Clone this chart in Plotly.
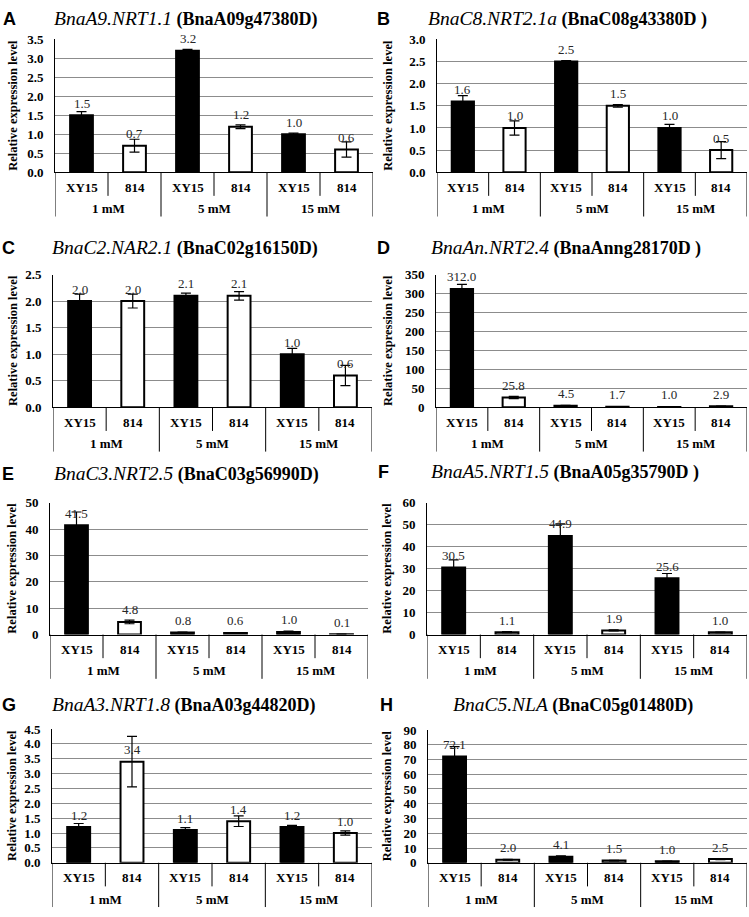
import plotly.graph_objects as go

W, H = 749, 917

# ---------------- data ----------------
genotypes = ["XY15", "814", "XY15", "814", "XY15", "814"]
concentrations = ["1 mM", "5 mM", "15 mM"]
panel_letters = ["A", "B", "C", "D", "E", "F", "G", "H"]
gene_names = ["BnaA9.NRT1.1", "BnaC8.NRT2.1a", "BnaC2.NAR2.1", "BnaAn.NRT2.4",
              "BnaC3.NRT2.5", "BnaA5.NRT1.5", "BnaA3.NRT1.8", "BnaC5.NLA"]
gene_ids = ["(BnaA09g47380D)", "(BnaC08g43380D )", "(BnaC02g16150D)", "(BnaAnng28170D )",
            "(BnaC03g56990D)", "(BnaA05g35790D )", "(BnaA03g44820D)", "(BnaC05g01480D)"]

vals_A = [1.5, 0.7, 3.2, 1.2, 1.0, 0.6]
err_A = [0.1, 0.17, 0.04, 0.05, 0.03, 0.2]
vals_B = [1.6, 1.0, 2.5, 1.5, 1.0, 0.5]
err_B = [0.13, 0.16, 0.02, 0.03, 0.08, 0.19]
vals_C = [2.0, 2.0, 2.1, 2.1, 1.0, 0.6]
err_C = [0.13, 0.13, 0.05, 0.08, 0.11, 0.19]
vals_D = [312.0, 25.8, 4.5, 1.7, 1.0, 2.9]
err_D = [12.0, 3.0, 0.5, 0.2, 0.1, 0.3]
vals_E = [41.5, 4.8, 0.8, 0.6, 1.0, 0.1]
err_E = [5.0, 0.7, 0.1, 0.1, 0.3, 0.05]
vals_F = [30.5, 1.1, 44.9, 1.9, 25.6, 1.0]
err_F = [3.5, 0.2, 5.5, 0.2, 2.2, 0.1]
vals_G = [1.2, 3.4, 1.1, 1.4, 1.2, 1.0]
err_G = [0.12, 0.85, 0.08, 0.18, 0.06, 0.07]
vals_H = [72.1, 2.0, 4.1, 1.5, 1.0, 2.5]
err_H = [6.6, 0.3, 0.6, 0.2, 0.2, 0.3]

all_vals = [vals_A, vals_B, vals_C, vals_D, vals_E, vals_F, vals_G, vals_H]
all_errs = [err_A, err_B, err_C, err_D, err_E, err_F, err_G, err_H]
y_max = [3.5, 3.0, 2.5, 350, 50, 60, 4.5, 90]
y_dtick = [0.5, 0.5, 0.5, 50, 10, 10, 0.5, 10]
y_fmt = [".1f", ".1f", ".1f", "d", "d", "d", ".1f", "d"]

# ---------------- layout (pixels) ----------------
# (x0, x1, y_top, y_zero)
boxes = [(55, 373, 33, 168), (437, 747, 33, 168),
         (53, 372, 272, 407), (436, 747, 272, 407),
         (50, 368, 504, 638), (427, 747, 504, 638),
         (52, 372, 734, 870), (428, 747, 735, 870)]
title_pos = [(186, 12), (567, 12), (185, 245), (566, 245),
             (186, 475), (565, 473), (184, 710), (573, 710)]
letter_pos = [(9, 12), (383, 12), (8, 245), (383, 245),
              (8, 475), (383, 473), (9, 710), (386, 710)]
ytitle_x = [13, 388, 13, 388, 12, 387, 12, 387]

SERIF = "Liberation Serif, Times New Roman, serif"
SANS = "Liberation Sans, Arial, sans-serif"

fig = go.Figure()
layout = dict(width=W, height=H, autosize=False,
              margin=dict(l=0, r=0, t=0, b=0),
              paper_bgcolor="white", plot_bgcolor="white",
              showlegend=False)
annotations = []
shapes = []
bar_colors = ["black", "white"] * 3
xpos = list(range(6))

for i in range(8):
    n = i + 1
    xa = "x" if n == 1 else f"x{n}"
    ya = "y" if n == 1 else f"y{n}"
    xkey = "xaxis" if n == 1 else f"xaxis{n}"
    ykey = "yaxis" if n == 1 else f"yaxis{n}"
    x0, x1, yt, yz = boxes[i]
    ph = yz - yt
    vals = all_vals[i]
    fig.add_trace(go.Bar(
        x=xpos, y=vals, width=0.43,
        marker=dict(color=bar_colors, line=dict(color="black", width=2)),
        error_y=dict(type="data", array=all_errs[i], color="black",
                     thickness=1.2, width=5),
        cliponaxis=False,
        xaxis=xa, yaxis=ya, hoverinfo="skip"))
    for j, v in enumerate(vals):
        annotations.append(dict(text=f"{v:.1f}", x=j, y=v, xref=xa, yref=ya,
                                yshift=12, showarrow=False, yanchor="middle",
                                font=dict(family=SERIF, size=13, color="#262626")))
    layout[xkey] = dict(domain=[x0 / W, x1 / W], anchor=ya, range=[-0.5, 5.5],
                        showticklabels=False, showgrid=False, zeroline=False,
                        showline=True, linecolor="black", linewidth=1,
                        ticks="", fixedrange=True)
    layout[ykey] = dict(domain=[1 - yz / H, 1 - yt / H], anchor=xa,
                        range=[0, y_max[i]], dtick=y_dtick[i], tick0=0,
                        tickformat=y_fmt[i], showgrid=True, gridcolor="#8c8c8c",
                        gridwidth=1, zeroline=False, showline=True,
                        linecolor="black", linewidth=1, ticks="",
                        ticklabelstandoff=8,
                        tickfont=dict(family=SERIF, size=13, color="black",
                                      weight="bold"),
                        fixedrange=True)
    yd = f"{ya} domain"
    short = -24 / ph
    long_ = -45 / ph
    for xv in [0.5, 2.5, 4.5]:
        shapes.append(dict(type="line", xref=xa, yref=yd, x0=xv, x1=xv,
                           y0=0, y1=short, line=dict(color="black", width=1)))
    for xv in [-0.5, 1.5, 3.5, 5.5]:
        shapes.append(dict(type="line", xref=xa, yref=yd, x0=xv, x1=xv,
                           y0=0, y1=long_, line=dict(color="black", width=1)))
    for j, g in enumerate(genotypes):
        annotations.append(dict(text=g, x=j, xref=xa, y=-15 / ph, yref=yd,
                                showarrow=False, yanchor="middle",
                                font=dict(family=SERIF, size=13, color="black",
                                          weight="bold")))
    for k, c in enumerate(concentrations):
        annotations.append(dict(text=c, x=2 * k + 0.5, xref=xa, y=-37 / ph, yref=yd,
                                showarrow=False, yanchor="middle",
                                font=dict(family=SERIF, size=13, color="black",
                                          weight="bold")))
    tx, ty = title_pos[i]
    annotations.append(dict(
        text=(f'<span style="font-size:19.5px"><i>{gene_names[i]}</i></span>'
              f' <b>{gene_ids[i]}</b>'),
        x=tx / W, y=1 - ty / H, xref="paper", yref="paper",
        showarrow=False, xanchor="center", yanchor="middle",
        font=dict(family=SERIF, size=18, color="black")))
    lx, ly = letter_pos[i]
    annotations.append(dict(text=panel_letters[i], x=lx / W, y=1 - ly / H,
                            xref="paper", yref="paper", showarrow=False,
                            xanchor="center", yanchor="middle",
                            font=dict(family=SANS, size=18, color="black",
                                      weight="bold")))
    annotations.append(dict(text="Relative expression level", textangle=-90,
                            x=ytitle_x[i] / W, y=1 - (yt + yz) / 2 / H,
                            xref="paper", yref="paper", showarrow=False,
                            xanchor="center", yanchor="middle",
                            font=dict(family=SERIF, size=12.5, color="black",
                                      weight="bold")))

layout["annotations"] = annotations
layout["shapes"] = shapes
fig.update_layout(**layout)
fig.write_html("out.html", post_script="document.body.style.margin='0';",
               config={"displayModeBar": False})
